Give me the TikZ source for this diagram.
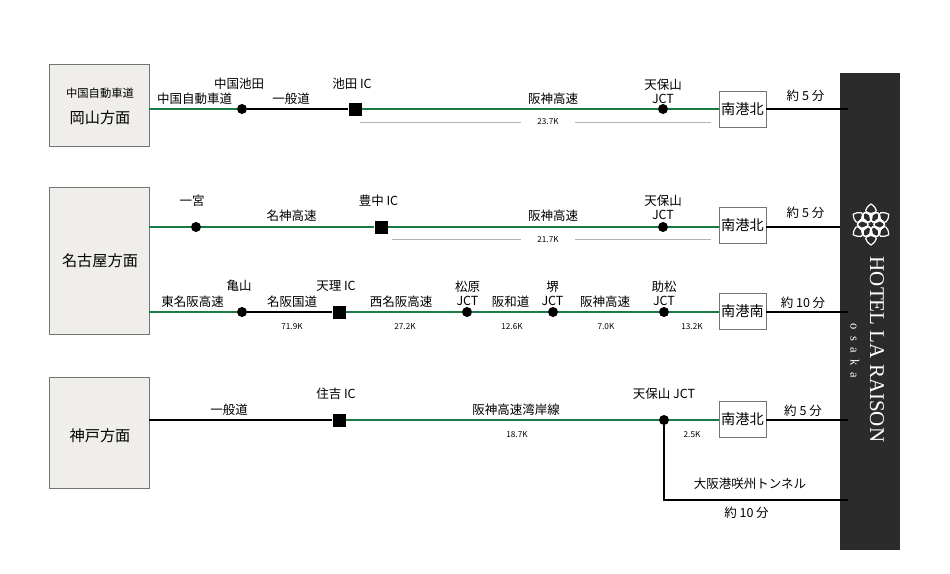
\documentclass[tikz,border=0pt]{standalone}
\usepackage{fontspec}
\setmainfont{Noto Sans CJK JP}
\newfontfamily\hotelfont{Liberation Serif}
\usetikzlibrary{positioning}

\definecolor{routegreen}{RGB}{26, 122, 70}
\definecolor{fromcolor}{RGB}{240, 238, 234}
\definecolor{barcolor}{RGB}{43, 43, 43}

\tikzset{
    frombox/.style={draw=black!55, fill=fromcolor, line width=0.9pt, minimum width=100pt, inner sep=0pt},
    exitbox/.style={draw=black!55, fill=white, line width=0.9pt, minimum width=47pt, minimum height=36pt, inner sep=0pt, font=\fontsize{14.2}{14}\selectfont},
    jct/.style={circle, fill=black, minimum size=10pt, inner sep=0pt},
    ic/.style={rectangle, fill=black, minimum size=13pt, inner sep=0pt},
    lbl/.style={font=\fontsize{12.5}{14}\selectfont, inner sep=0pt, align=center},
    fromlbl/.style={font=\fontsize{15.2}{15}\selectfont, inner sep=0pt},
    km/.style={font=\fontsize{8.2}{8}\selectfont, inner sep=0pt},
    green/.style={routegreen, line width=2.3pt},
    road/.style={black, line width=1.4pt},
    kmline/.style={black!30, line width=0.6pt},
    knot/.style={white, line width=1.2pt},
}

\begin{document}
\begin{tikzpicture}[x=1pt,y=-1pt]
        \useasboundingbox (0,0) rectangle (950,573);

        % hotel bar
        \fill[barcolor] (840,73) rectangle (900,550);
        \node[rotate=-90, white, inner sep=0pt, font=\hotelfont\fontsize{21}{21}\selectfont] (hotelname) at (877,349.5) {HOTEL LA RAISON};
        \node[rotate=-90, white, inner sep=0pt, font=\hotelfont\fontsize{12.5}{12}\selectfont] (hotelcity) at (855,350.5) {o\hspace{6.5pt}s\hspace{6.5pt}a\hspace{6.5pt}k\hspace{6.5pt}a};

        % logo
        \begin{scope}[shift={(871,224.5)}]
            \foreach \a in {0,60,...,300} {
                \begin{scope}[rotate=\a, shift={(0,-9.5)}]
                    \foreach \b in {0,120,240} {
                        \draw[knot, rotate=\b] (0,0) .. controls (-8,-2) and (-6,-7) .. (0,-11) .. controls (6,-7) and (8,-2) .. (0,0);
                    }
                \end{scope}
            }
        \end{scope}

        % from boxes
        \node[frombox, minimum height=82pt] (okayama) at (99,105) {};
        \node[frombox, minimum height=147pt] (nagoya) at (99,260.5) {};
        \node[frombox, minimum height=111pt] (kobe) at (99,432.5) {};
        \node[lbl, font=\fontsize{11.3}{11}\selectfont] (okayamaroad) at (100,93.5) {中国自動車道};
        \node[fromlbl] (okayamalbl) at (100,118) {岡山方面};
        \node[fromlbl] (nagoyalbl) at (100,261) {名古屋方面};
        \node[fromlbl] (kobelbl) at (100,436) {神戸方面};

        % exit boxes
        \node[exitbox] (exitA) at (742.5,109) {南港北};
        \node[exitbox] (exitB) at (742.5,225.5) {南港北};
        \node[exitbox] (exitC) at (742.5,311.5) {南港南};
        \node[exitbox] (exitD) at (742.5,419) {南港北};

        % row one
        \node[jct] (ikedaA) at (242,109) {};
        \node[ic] (ikedaIC) at (355,109) {};
        \node[jct] (tenpoA) at (663,109) {};
        \coordinate (hotelA) at (848,109);
        \draw[green] (okayama.east |- ikedaA) -- (ikedaA);
        \draw[road, line width=2pt] (ikedaA) -- (ikedaIC);
        \draw[green] (ikedaIC) -- (tenpoA);
        \draw[green] (tenpoA) -- (exitA);
        \draw[road] (exitA.east |- hotelA) -- (hotelA);
        \node[lbl] at (239,84) {中国池田};
        \node[lbl] at (194.5,98.5) {中国自動車道};
        \node[lbl] at (291,98.5) {一般道};
        \node[lbl] at (352,84) {池田 IC};
        \node[lbl] at (553,98.5) {阪神高速};
        \node[lbl] at (663,91) {天保山\\JCT};
        \node[lbl] at (805.5,95.5) {約 5 分};

        % row two
        \node[jct] (ichinomiya) at (196,227) {};
        \node[ic] (toyonaka) at (381,227) {};
        \node[jct] (tenpoB) at (663,227) {};
        \coordinate (hotelB) at (840,227);
        \draw[green] (nagoya.east |- ichinomiya) -- (ichinomiya);
        \draw[green] (ichinomiya) -- (toyonaka);
        \draw[green] (toyonaka) -- (tenpoB);
        \draw[green] (tenpoB) -- (exitB.west |- tenpoB);
        \draw[road] (exitB.east |- hotelB) -- (hotelB);
        \node[lbl] at (192,200.5) {一宮};
        \node[lbl] at (291.5,215.5) {名神高速};
        \node[lbl] at (378.5,200.5) {豊中 IC};
        \node[lbl] at (553,215.5) {阪神高速};
        \node[lbl] at (663,207.5) {天保山\\JCT};
        \node[lbl] at (805.5,213) {約 5 分};

        % row three
        \node[jct] (kameyama) at (242,312) {};
        \node[ic] (tenri) at (339,312) {};
        \node[jct] (matsubara) at (467,312) {};
        \node[jct] (sakai) at (553,312) {};
        \node[jct] (sukematsu) at (664,312) {};
        \coordinate (hotelC) at (848,312);
        \draw[green] (nagoya.east |- kameyama) -- (kameyama);
        \draw[road] (kameyama) -- (tenri);
        \draw[green] (tenri) -- (matsubara);
        \draw[green] (matsubara) -- (sakai);
        \draw[green] (sakai) -- (sukematsu);
        \draw[green] (sukematsu) -- (exitC.west |- sukematsu);
        \draw[road] (exitC.east |- hotelC) -- (hotelC);
        \node[lbl] at (239,286) {亀山};
        \node[lbl] at (192.5,301.5) {東名阪高速};
        \node[lbl] at (292,301.5) {名阪国道};
        \node[lbl] at (336,286) {天理 IC};
        \node[lbl] at (401,301.5) {西名阪高速};
        \node[lbl] at (467.5,293) {松原\\JCT};
        \node[lbl] at (510.5,301.5) {阪和道};
        \node[lbl] at (552.5,293) {堺\\JCT};
        \node[lbl] at (605,301.5) {阪神高速};
        \node[lbl] at (664,293) {助松\\JCT};
        \node[lbl] at (803,303) {約 10 分};
        \node[km] at (292,327) {71.9K};
        \node[km] at (405,327) {27.2K};
        \node[km] at (512,327) {12.6K};
        \node[km] at (606,327) {7.0K};
        \node[km] at (692,327) {13.2K};

        % row four
        \node[ic] (sumiyoshi) at (339,420) {};
        \node[jct] (tenpoC) at (664,420) {};
        \coordinate (hotelD) at (848,420);
        \coordinate (hotelE) at (848,500);
        \draw[road] (kobe.east |- sumiyoshi) -- (sumiyoshi);
        \draw[green] (sumiyoshi) -- (tenpoC);
        \draw[green] (tenpoC) -- (exitD.west |- tenpoC);
        \draw[road] (exitD.east |- hotelD) -- (hotelD);
        \draw[road] (tenpoC) |- (hotelE);
        \node[lbl] at (229,410) {一般道};
        \node[lbl] at (336,394) {住吉 IC};
        \node[lbl] at (516,410) {阪神高速湾岸線};
        \node[lbl] at (664,394) {天保山 JCT};
        \node[lbl] at (803,411) {約 5 分};
        \node[lbl] at (750,483.5) {大阪港咲州トンネル};
        \node[lbl] at (746.5,512.5) {約 10 分};
        \node[km] at (517,435) {18.7K};
        \node[km] at (692,435) {2.5K};

        % distance lines
        \node[km] (kmA) at (548,122) {23.7K};
        \coordinate (kmAl) at (360,122);
        \coordinate (kmAm) at (521,122);
        \coordinate (kmAn) at (575,122);
        \coordinate (kmAr) at (711,122);
        \draw[kmline] (kmAl) -- (kmAm);
        \draw[kmline] (kmAn) -- (kmAr);
        \node[km] (kmB) at (548,239.5) {21.7K};
        \coordinate (kmBl) at (392,239.5);
        \coordinate (kmBm) at (521,239.5);
        \coordinate (kmBn) at (575,239.5);
        \coordinate (kmBr) at (711,239.5);
        \draw[kmline] (kmBl) -- (kmBm);
        \draw[kmline] (kmBn) -- (kmBr);
\end{tikzpicture}
\end{document}
